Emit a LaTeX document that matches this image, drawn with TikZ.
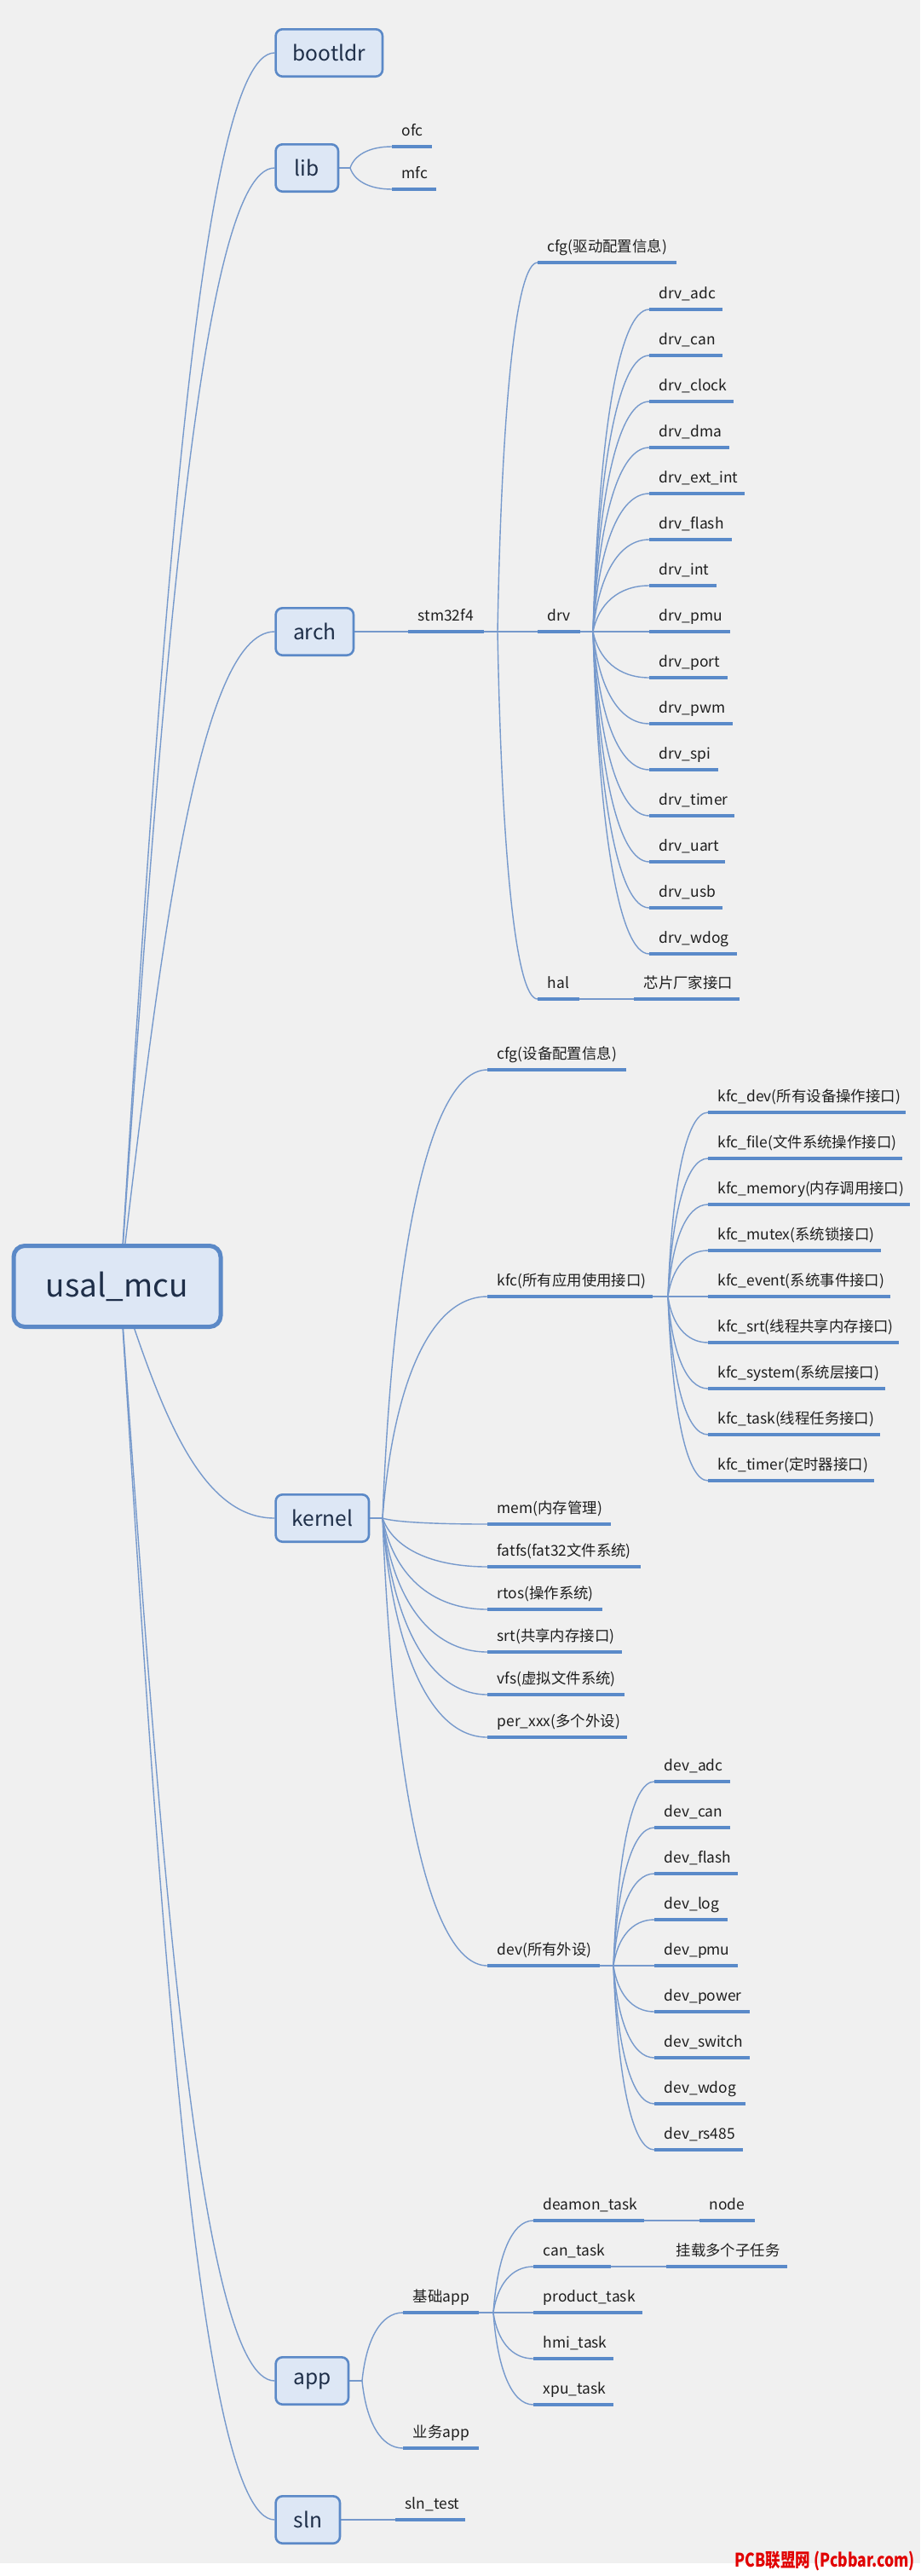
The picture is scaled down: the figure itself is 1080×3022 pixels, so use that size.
\documentclass[tikz,border=0pt]{standalone}
\usepackage{fontspec}
\setmainfont{Noto Sans CJK SC}
\usetikzlibrary{calc}
\definecolor{bgc}{RGB}{240,240,240}
\definecolor{connc}{RGB}{118,153,204}
\definecolor{ulc}{RGB}{90,138,201}
\definecolor{boxf}{RGB}{221,231,245}
\definecolor{boxc}{RGB}{91,137,199}
\definecolor{topc}{RGB}{30,46,72}
\definecolor{txtc}{RGB}{30,30,30}
\definecolor{pcbred}{RGB}{225,0,0}
\pgfdeclarelayer{back}
\pgfdeclarelayer{lines}
\pgfsetlayers{back,lines,main}
\tikzset{
  conn/.style={draw=connc, line width=1.4pt},
  ul/.style={draw=ulc, line width=3.4pt},
  lbl/.style={anchor=base west, inner sep=0pt, font=\fontsize{17.4}{20}\selectfont, text=txtc},
  topic/.style={draw=boxc, fill=boxf, line width=2.6pt, rounded corners=8pt, inner sep=0pt,
    minimum height=55.4pt, anchor=west, font=\fontsize{24.5}{28}\selectfont, text=topc},
}
% name, x1, x2, y, text
\newcommand\leaf[5]{%
  \coordinate (#1) at (#2,#4);
  \coordinate (#1-e) at (#3,#4);
  \draw[ul] (#1) -- (#1-e);
  \node[lbl] (#1-t) at ({#2+11.5},{#4-13}) {#5};
}
\newcommand\fan[2]{%
  \begin{pgfonlayer}{lines}
  \draw[conn] let \p1=(#1), \p2=(#2) in (\p1) .. controls ({\x1+0.1*(\x2-\x1)},{\y1+0.6*(\y2-\y1)}) and ({\x1+0.45*(\x2-\x1)},\y2) .. (\p2);
  \end{pgfonlayer}}
\newcommand\rootfan[2]{%
  \begin{pgfonlayer}{lines}
  \draw[conn] let \p1=(#1), \p2=(#2) in (\p1) .. controls ({\x1+0.25*(\x2-\x1)},{\y1+0.5*(\y2-\y1)}) and ({\x1+0.5*(\x2-\x1)},\y2) .. (\p2);
  \end{pgfonlayer}}
\newcommand\straight[2]{%
  \begin{pgfonlayer}{lines}
  \draw[conn] (#1) -- (#2);
  \end{pgfonlayer}}
\begin{document}
\begin{tikzpicture}[x=1pt,y=-1pt]
\begin{pgfonlayer}{back}
  \fill[bgc] (0,0) rectangle (1080,3022);
  \fill[white] (0,3007) rectangle (1080,3022);
\end{pgfonlayer}
\useasboundingbox (0,0) rectangle (1080,3022);

% ---------- root ----------
\node[draw=boxc, fill=boxf, line width=5pt, rounded corners=13pt, inner sep=0pt,
  minimum width=243pt, minimum height=95pt, font=\fontsize{37}{40}\selectfont, text=topc]
  (root) at (137.5,1509) {usal\_mcu};
\coordinate (rc) at (141,1509);

% ---------- main topics ----------
\node[topic, minimum width=125.4pt] (bootldr) at (322.3,62) {bootldr};
\node[topic, minimum width=73.4pt] (lib) at (322.3,197) {lib};
\node[topic, minimum width=91.4pt] (arch) at (322.3,741) {arch};
\node[topic, minimum width=109.4pt] (kernel) at (322.3,1781) {kernel};
\node[topic, minimum width=85.4pt] (app) at (322.3,2793) {app};
\node[topic, minimum width=75.4pt] (sln) at (322.3,2956) {sln};

\rootfan{rc}{bootldr.west}
\rootfan{rc}{lib.west}
\rootfan{rc}{arch.west}
\rootfan{rc}{kernel.west}
\rootfan{rc}{app.west}
\rootfan{rc}{sln.west}

% ---------- lib ----------
\leaf{ofc}{460}{507}{172}{ofc}
\leaf{mfc}{460}{512}{222}{mfc}
\coordinate (lb) at (411,197);
\straight{lib.east}{lb}
\fan{lb}{ofc}
\fan{lb}{mfc}

% ---------- arch ----------
\leaf{stm}{479}{568}{741}{stm32f4}
\straight{arch.east}{stm}
\coordinate (sb) at (584,741);
\straight{stm-e}{sb}
\leaf{cfga}{631}{794}{308}{cfg(驱动配置信息)}
\leaf{drv}{631}{681}{741}{drv}
\leaf{hal}{631}{680}{1172}{hal}
\fan{sb}{cfga}
\fan{sb}{drv}
\fan{sb}{hal}
\leaf{chip}{744}{868}{1172}{芯片厂家接口}
\straight{hal-e}{chip}
\coordinate (db) at (696,741);
\straight{drv-e}{db}
\foreach \lab/\e [count=\i from 0] in {adc/848,can/848,clock/861,dma/856,ext\_int/874,flash/859,int/841,pmu/857,port/854,pwm/860,spi/843,timer/862,uart/851,usb/848,wdog/865}{
  \leaf{d\i}{762}{\e}{363+54*\i}{drv\_\lab}
  \fan{db}{d\i}
}

% ---------- kernel ----------
\coordinate (kb) at (449,1781);
\straight{kernel.east}{kb}
\leaf{cfgk}{572}{735}{1255}{cfg(设备配置信息)}
\leaf{kfc}{572}{766}{1521}{kfc(所有应用使用接口)}
\leaf{mem}{572}{717}{1788}{mem(内存管理)}
\leaf{fatfs}{572}{752}{1838}{fatfs(fat32文件系统)}
\leaf{rtos}{572}{707}{1888}{rtos(操作系统)}
\leaf{srt}{572}{730}{1938}{srt(共享内存接口)}
\leaf{vfs}{572}{733}{1988}{vfs(虚拟文件系统)}
\leaf{per}{572}{736}{2038}{per\_xxx(多个外设)}
\leaf{dev}{572}{704}{2306}{dev(所有外设)}
\foreach \nm in {cfgk,kfc,mem,fatfs,rtos,srt,vfs,per,dev}{\fan{kb}{\nm}}

\coordinate (kfb) at (784,1521);
\straight{kfc-e}{kfb}
\foreach \lab/\e [count=\i from 0] in {dev(所有设备操作接口)/1063,file(文件系统操作接口)/1059,memory(内存调用接口)/1068,mutex(系统锁接口)/1034,event(系统事件接口)/1045,srt(线程共享内存接口)/1055,system(系统层接口)/1039,task(线程任务接口)/1033,timer(定时器接口)/1026}{
  \leaf{kf\i}{831}{\e}{1305+54*\i}{kfc\_\lab}
  \fan{kfb}{kf\i}
}

\coordinate (dvb) at (720,2306);
\straight{dev-e}{dvb}
\foreach \lab/\e [count=\i from 0] in {adc/857,can/857,flash/866,log/854,pmu/866,power/880,switch/880,wdog/875,rs485/872}{
  \leaf{dv\i}{768}{\e}{2090+54*\i}{dev\_\lab}
  \fan{dvb}{dv\i}
}

% ---------- app ----------
\coordinate (ab) at (425,2793);
\straight{app.east}{ab}
\leaf{jc}{473}{562}{2713}{基础app}
\leaf{yw}{473}{562}{2872}{业务app}
\fan{ab}{jc}
\fan{ab}{yw}
\coordinate (jb) at (579,2713);
\straight{jc-e}{jb}
\leaf{deam}{626}{756}{2605}{deamon\_task}
\leaf{cant}{626}{717}{2659}{can\_task}
\leaf{prod}{626}{754}{2713}{product\_task}
\leaf{hmi}{626}{720}{2767}{hmi\_task}
\leaf{xpu}{626}{720}{2821}{xpu\_task}
\foreach \nm in {deam,cant,prod,hmi,xpu}{\fan{jb}{\nm}}
\leaf{nd}{821}{886}{2605}{node}
\straight{deam-e}{nd}
\leaf{mount}{782}{924}{2659}{挂载多个子任务}
\straight{cant-e}{mount}

% ---------- sln ----------
\leaf{slnt}{464}{546}{2956}{sln\_test}
\straight{sln.east}{slnt}

% ---------- footer text ----------
\node[anchor=east, inner sep=0pt, font=\bfseries\fontsize{22}{24}\selectfont, text=pcbred, xscale=0.8, transform shape]
  (pcb) at (1074,3004) {PCB联盟网 (Pcbbar.com)};
\end{tikzpicture}
\end{document}
